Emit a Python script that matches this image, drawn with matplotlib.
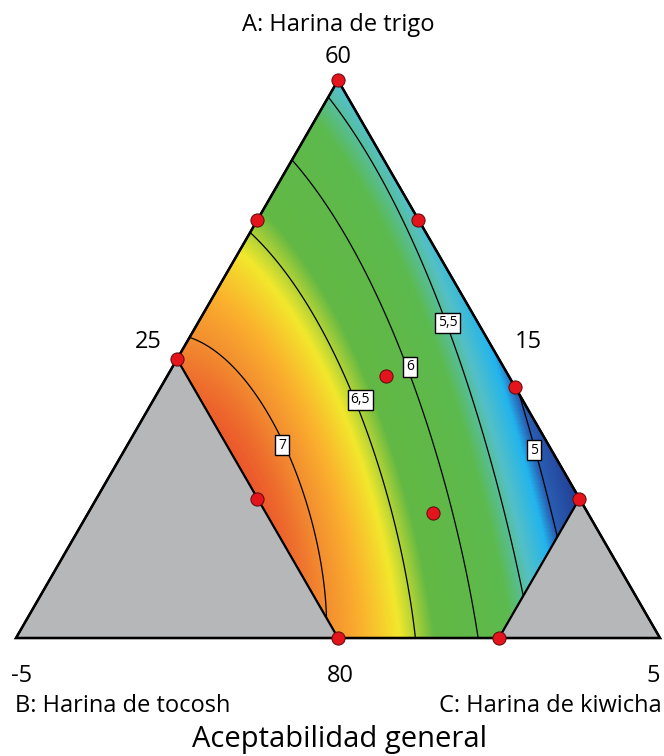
import matplotlib
matplotlib.use("Agg")
import matplotlib.pyplot as plt
import numpy as np
from matplotlib.colors import LinearSegmentedColormap, Normalize
from matplotlib.patches import Polygon

plt.rcParams['font.family'] = ['Open Sans', 'DejaVu Sans']

# pseudo-component fractions (A, B, C)
# points along each contour line
lev_7   = [(0.54, 0.46, 0.00), (0.43, 0.42, 0.15), (0.35, 0.41, 0.24),
           (0.25, 0.44, 0.31), (0.09, 0.49, 0.42), (0.045, 0.50, 0.455)]
lev_6_5 = [(0.74, 0.26, 0.00), (0.53, 0.27, 0.20), (0.43, 0.25, 0.32),
           (0.28, 0.29, 0.43), (0.00, 0.38, 0.62)]
lev_6   = [(0.86, 0.14, 0.00), (0.74, 0.13, 0.13), (0.53, 0.14, 0.33),
           (0.49, 0.14, 0.37), (0.28, 0.19, 0.53), (0.00, 0.28, 0.72)]
lev_5_5 = [(0.955, 0.045, 0.00), (0.74, 0.03, 0.23), (0.53, 0.06, 0.41),
           (0.28, 0.11, 0.61), (0.09, 0.17, 0.74)]
lev_5   = [(0.45, 0.00, 0.55), (0.34, 0.03, 0.63), (0.28, 0.045, 0.675),
           (0.17, 0.08, 0.75)]
contour_traces = {7.0: lev_7, 6.5: lev_6_5, 6.0: lev_6, 5.5: lev_5_5, 5.0: lev_5}

# estimated response at a few corners (from the colours)
anchor_pts  = [(1.0, 0.0, 0.0), (0.75, 0.0, 0.25), (0.25, 0.0, 0.75),
               (0.25, 0.5, 0.25), (0.5, 0.5, 0.0), (0.0, 0.5, 0.5)]
anchor_vals = [5.4, 5.4, 4.72, 7.25, 7.05, 6.97]

# design points
design_pts = [(1.0, 0.0, 0.0), (0.75, 0.25, 0.0), (0.5, 0.5, 0.0),
              (0.75, 0.0, 0.25), (0.45, 0.0, 0.55), (0.25, 0.0, 0.75),
              (0.0, 0.5, 0.5), (0.0, 0.25, 0.75), (0.47, 0.19, 0.34),
              (0.225, 0.24, 0.535), (0.25, 0.5, 0.25)]

# feasible region (B <= 0.5, C <= 0.75)
region = [(1.0, 0.0, 0.0), (0.5, 0.5, 0.0), (0.0, 0.5, 0.5),
          (0.0, 0.25, 0.75), (0.25, 0.0, 0.75)]
gray_left  = [(0.0, 1.0, 0.0), (0.5, 0.5, 0.0), (0.0, 0.5, 0.5)]
gray_right = [(0.0, 0.0, 1.0), (0.25, 0.0, 0.75), (0.0, 0.25, 0.75)]

levels = [5.0, 5.5, 6.0, 6.5, 7.0]
label_pos = {7.0: (0.346, 0.414, 0.240), 6.5: (0.427, 0.252, 0.321),
             6.0: (0.486, 0.145, 0.369), 5.5: (0.565, 0.047, 0.388),
             5.0: (0.337, 0.027, 0.636)}

H = np.sqrt(3) / 2


def to_xy(p):
    a, b, c = p
    return (c + a / 2, a * H)


def basis(a, c):
    return np.stack([np.ones_like(a), a, c, a * a, a * c, c * c,
                     a ** 3, a * a * c, a * c * c, c ** 3], axis=-1)


# fit a cubic surface to the values
fa, fc, fz = [], [], []
for lev, pts in contour_traces.items():
    for p in pts:
        fa.append(p[0]); fc.append(p[2]); fz.append(lev)
for p, v in zip(anchor_pts, anchor_vals):
    fa.append(p[0]); fc.append(p[2]); fz.append(v)
coef, *_ = np.linalg.lstsq(basis(np.array(fa), np.array(fc)), np.array(fz), rcond=None)

xs = np.linspace(0, 1, 700)
ys = np.linspace(0, H, 620)
X, Y = np.meshgrid(xs, ys)
Aa = Y / H
Cc = X - Aa / 2
Z = basis(Aa, Cc) @ coef

cmap = LinearSegmentedColormap.from_list("de", [
    (0.00, "#23449a"), (0.12, "#2a60b4"), (0.17, "#22b4ee"),
    (0.27, "#54c0c6"), (0.38, "#5cba4e"), (0.65, "#62b844"),
    (0.75, "#f2e82c"), (0.84, "#fbb02e"), (0.90, "#f39030"),
    (1.00, "#e8432a")])
norm = Normalize(4.72, 7.25)

fig = plt.figure(figsize=(6.64, 7.56), dpi=100)
ax = fig.add_axes([0, 0, 1, 1])
ax.set_xlim(-0.0248, 1.0062)
ax.set_ylim(-0.1832, 0.9907)
ax.axis('off')

reg_patch = Polygon([to_xy(p) for p in region], closed=True,
                    facecolor='none', edgecolor='black', linewidth=1.5, zorder=3)
ax.add_patch(reg_patch)

im = ax.imshow(Z, extent=(0, 1, 0, H), origin='lower', cmap=cmap, norm=norm,
               interpolation='bilinear', zorder=1)
im.set_clip_path(reg_patch)

cs = ax.contour(X, Y, Z, levels=levels, colors='black', linewidths=0.9, zorder=2)
cs.set_clip_path(reg_patch)

for tri in (gray_left, gray_right):
    ax.add_patch(Polygon([to_xy(p) for p in tri], closed=True,
                         facecolor='#b5b7b9', edgecolor='black', linewidth=1.5, zorder=3))

outer = [to_xy(p) for p in [(1, 0, 0), (0, 1, 0), (0, 0, 1)]]
ax.add_patch(Polygon(outer, closed=True, facecolor='none', edgecolor='black',
                     linewidth=1.8, zorder=4))

for lev, p in label_pos.items():
    x, y = to_xy(p)
    txt = ("%g" % lev).replace('.', ',')
    ax.text(x, y, txt, ha='center', va='center', fontsize=10, zorder=6,
            bbox=dict(boxstyle='square,pad=0.2', facecolor='white',
                      edgecolor='black', linewidth=1.0))

dx = [to_xy(p)[0] for p in design_pts]
dy = [to_xy(p)[1] for p in design_pts]
ax.plot(dx, dy, 'o', color='#e3141c', markeredgecolor='#5a0a0a',
        markeredgewidth=0.7, markersize=9.5, zorder=7, clip_on=False)

fs = 17
ax.text(0.5, 0.952, "A: Harina de trigo", ha='center', va='center', fontsize=fs)
ax.text(0.5, 0.902, "60", ha='center', va='center', fontsize=fs)
ax.text(0.205, 0.460, "25", ha='center', va='center', fontsize=fs)
ax.text(0.795, 0.460, "15", ha='center', va='center', fontsize=fs)
ax.text(0.009, -0.059, "-5", ha='center', va='center', fontsize=fs)
ax.text(0.503, -0.059, "80", ha='center', va='center', fontsize=fs)
ax.text(0.990, -0.059, "5", ha='center', va='center', fontsize=fs)
ax.text(-0.002, -0.1056, "B: Harina de tocosh", ha='left', va='center', fontsize=fs)
ax.text(1.003, -0.1056, "C: Harina de kiwicha", ha='right', va='center', fontsize=fs)
ax.text(0.503, -0.158, "Aceptabilidad general", ha='center', va='center', fontsize=21)

fig.savefig("out.png", dpi=100)
